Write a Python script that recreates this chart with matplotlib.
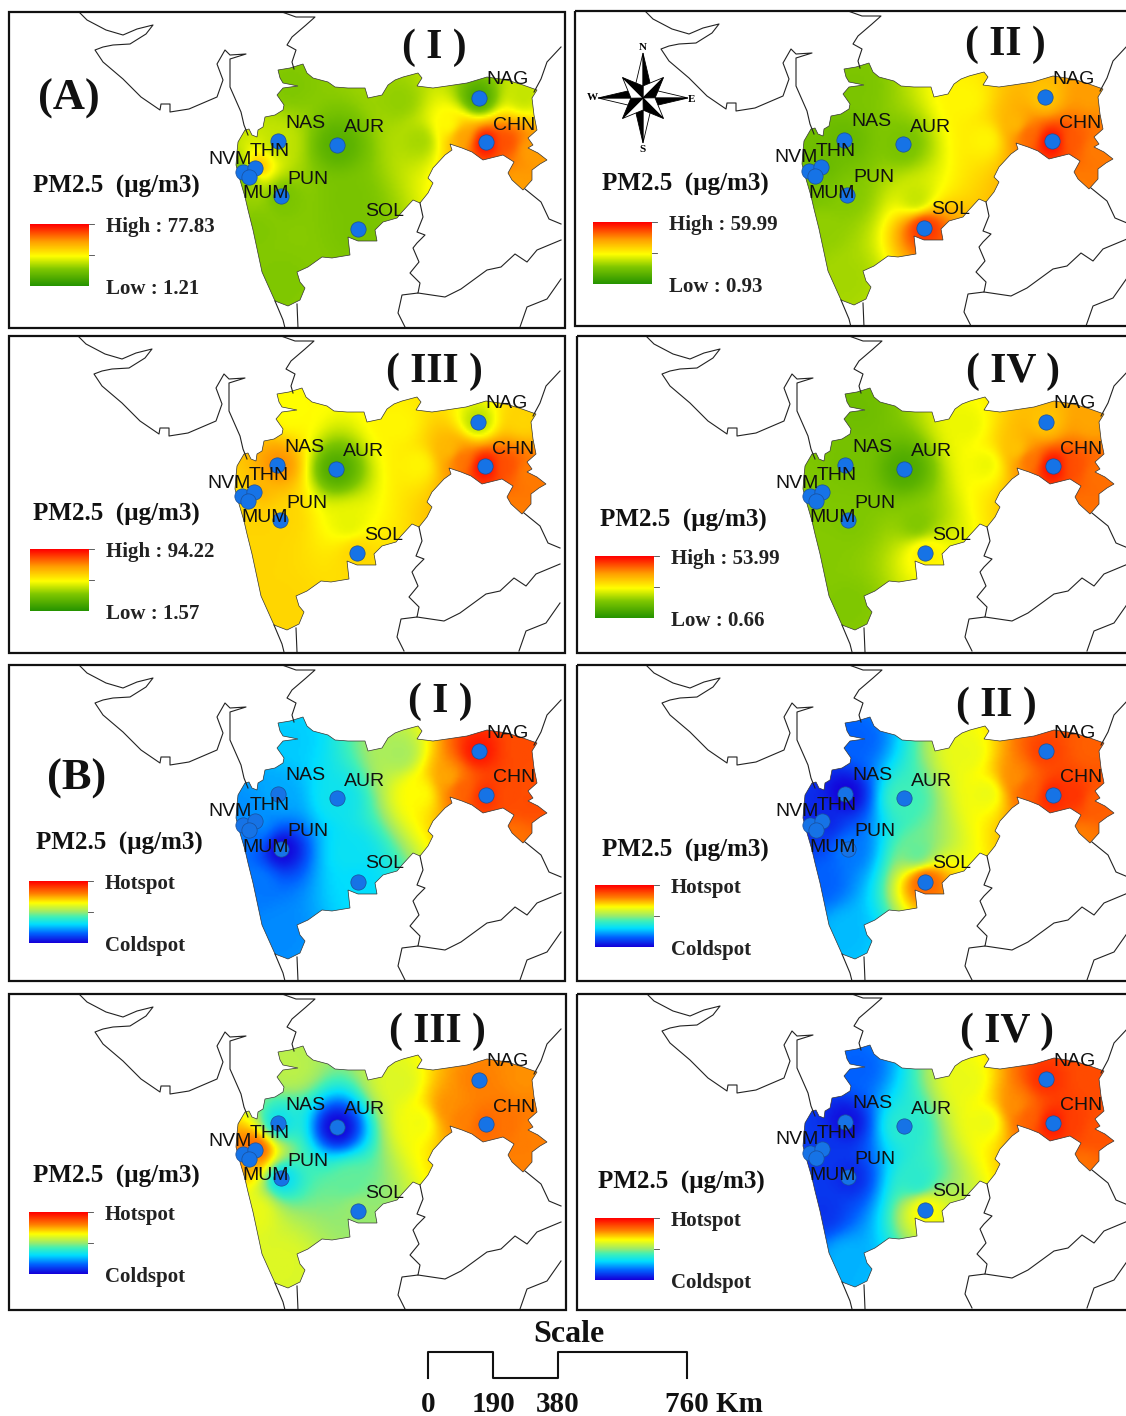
import numpy as np
from matplotlib import pyplot as plt
from matplotlib.colors import LinearSegmentedColormap
from matplotlib.patches import Polygon, Rectangle

SERIF = 'Liberation Serif'
SANS = 'Liberation Sans'

# state outline and borders, pixels of the first panel
outline = np.array([
    (237,152),(238,142),(245,130),(249,129),(252,135),(257,137),(258,130),(263,127),(265,117),(275,115),
    (283,110),(284,105),(277,95),(283,88),(298,86),(283,83),(280,78),(278,70),(290,68),(303,64),
    (307,73),(313,78),(328,82),(335,87),(348,88),(365,88),(368,98),(382,95),(388,85),(395,80),
    (403,77),(418,73),(422,78),(417,86),(433,88),(447,86),(467,83),(487,77),(507,80),(523,85),
    (537,90),(532,98),(534,115),(537,130),(528,138),(533,145),(528,148),(538,153),(547,160),(540,164),
    (532,170),(532,180),(523,190),(512,180),(508,173),(514,162),(503,155),(483,160),(472,152),(462,148),
    (450,144),(452,150),(445,155),(433,168),(428,178),(433,183),(428,193),(420,203),(413,200),(402,212),
    (397,218),(383,222),(375,230),(377,241),(358,241),(348,237),(350,255),(332,258),(322,257),(308,267),
    (297,272),(300,282),(305,288),(300,300),(288,306),(275,301),(262,272),(253,230),(248,210),(245,197),
    (240,180),(236,165)])

borders = [
    [(79,12),(87,20),(106,30),(123,35),(137,29),(153,25),(146,34),(130,44),(113,45),(103,47),(95,50),(103,62),
     (123,79),(141,97),(160,110),(161,104),(170,104),(170,112),(189,109),(217,97),(223,80),(217,64),(225,50),
     (230,55),(246,54),(230,59),(230,87),(241,112),(244,125),(248,135)],
    [(282,12),(296,17),(315,17),(306,25),(292,37),(287,45),(296,50),(292,62),(294,69)],
    [(561,47),(547,62),(541,79),(534,92)],
    [(525,189),(541,202),(549,219),(561,224)],
    [(420,203),(423,217),(417,232),(425,235),(417,243),(413,248),(419,262),(410,273),(420,283),(418,293),
     (402,295),(398,313),(405,327)],
    [(418,293),(445,297),(461,289),(487,270),(501,267),(515,254),(527,262),(537,250),(561,240)],
    [(520,327),(527,307),(547,299),(561,279)],
    [(275,301),(283,320),(285,328)],
    [(297,304),(298,328)],
]

station_names = ['NAG', 'CHN', 'NAS', 'AUR', 'NVM', 'THN', 'MUM', 'PUN', 'SOL']
station_x = [479, 486, 278, 337, 243, 255, 249, 281, 358]
station_y = [98, 142, 141, 145, 172, 168, 177, 196, 229]
label_x = [486, 493, 285, 344, 208, 250, 242, 287, 365]
label_y = [80, 125, 123, 128, 159, 152, 194, 179, 211]

# extra points inside the state so that the surface follows the picture
extra_x = [290, 420, 530, 515, 280, 255, 350, 400, 450, 525, 508, 462]
extra_y = [85, 140, 150, 185, 280, 230, 200, 100, 125, 95, 142, 135]

# colour position (0-1) read at each station, then each extra point
values_a1 = [.10, 1.0, .38, .15, .14, .75, .28, .25, .25, .27, .33, .72, .72, .27, .27, .25, .30, .48, .38, .86, .72]
values_a2 = [.62, 1.0, .20, .25, .22, .20, .25, .28, .92, .26, .50, .78, .78, .33, .30, .38, .50, .65, .72, .84, .82]
values_a3 = [.35, 1.0, .75, .12, .52, .70, .58, .58, .58, .48, .50, .78, .78, .58, .58, .44, .50, .65, .58, .86, .80]
values_a4 = [.62, 1.0, .24, .12, .28, .26, .28, .27, .52, .22, .45, .80, .80, .27, .28, .27, .45, .62, .70, .86, .80]
values_b1 = [.97, .93, .24, .33, .22, .22, .15, .00, .30, .28, .65, .88, .82, .20, .18, .32, .52, .75, .88, .88, .85]
values_b2 = [.90, .95, .00, .42, .05, .05, .10, .18, .85, .15, .62, .85, .80, .26, .15, .45, .62, .78, .85, .92, .85]
values_b3 = [.80, .84, .32, .00, .82, .88, .72, .30, .50, .55, .63, .80, .80, .60, .62, .45, .60, .78, .78, .82, .80]
values_b4 = [.93, .97, .02, .38, .10, .08, .08, .06, .66, .15, .62, .87, .82, .25, .08, .38, .62, .78, .88, .90, .85]

cmap_a = LinearSegmentedColormap.from_list('pm', [
    (0, (0.15, 0.58, 0)), (.27, (0.5, 0.78, 0)), (.48, (1, 1, 0)), (.72, (1, 0.62, 0)), (1, (1, 0, 0))])
cmap_b = LinearSegmentedColormap.from_list('spot', [
    (0, (0.08, 0, 0.85)), (.15, (0, 0.38, 1)), (.3, (0, 0.87, 1)), (.42, (0.25, 0.94, 0.72)),
    (.5, (0.6, 0.92, 0.43)), (.65, (1, 1, 0)), (.8, (1, 0.5, 0)), (1, (1, 0, 0))])

plt.rcParams['font.family'] = [SERIF, 'DejaVu Sans']
fig = plt.figure(figsize=(11.26, 14.16), dpi=100)
ax = fig.add_axes([0, 0, 1, 1])
ax.axis('off')

# Regular grid for the surface
gx, gy = np.meshgrid(np.arange(225, 560, 2.0), np.arange(55, 320, 2.0))
px = np.array(station_x + extra_x, dtype=float)
py = np.array(station_y + extra_y, dtype=float)
d2 = (gx[..., None] - px) ** 2 + (gy[..., None] - py) ** 2 + 64
weights = d2 ** -1.5


def draw_panel(frame, dx, dy, values, cmap, title, title_xy, pm_xy, bar, top_label, low_label):
    clip = Rectangle((frame[0], frame[1]), frame[2] - frame[0], frame[3] - frame[1], transform=ax.transData)

    # Surface of the state
    z = (weights * np.array(values)).sum(axis=2) / weights.sum(axis=2)
    im = ax.imshow(z, cmap=cmap, vmin=0, vmax=1, aspect='auto', interpolation='bilinear', origin='upper',
                   extent=(gx.min() + dx, gx.max() + dx, gy.max() + dy, gy.min() + dy), zorder=1)
    state = Polygon(outline + [dx, dy], closed=True, transform=ax.transData, fc='none', ec='#333333', lw=0.5, zorder=2)
    ax.add_patch(state)
    im.set_clip_path(state)

    for line in borders:
        b = np.array(line) + [dx, dy]
        ln, = ax.plot(b[:, 0], b[:, 1], color='#222222', lw=0.8, zorder=2)
        ln.set_clip_path(clip)

    # Stations and their codes
    ax.plot(np.array(station_x) + dx, np.array(station_y) + dy, 'o', ms=11, mfc='#1673e6', mec='#1a4f99', mew=0.5, zorder=3)
    for i in range(len(station_names)):
        ax.text(label_x[i] + dx, label_y[i] + dy, station_names[i], family=SANS, fontsize=14, color='#111111',
                ha='left', va='center', zorder=4, clip_on=True)

    # Legend
    grad = np.linspace(1, 0, 100).reshape(-1, 1)
    ax.imshow(grad, cmap=cmap, vmin=0, vmax=1, aspect='auto', extent=(bar[0], bar[1], bar[3], bar[2]), zorder=3)
    ax.plot([bar[1], bar[1] + 5], [(bar[2] + bar[3]) / 2] * 2, color='#444444', lw=0.6, zorder=3)
    ax.plot([bar[1], bar[1] + 5], [bar[2], bar[2]], color='#444444', lw=0.6, zorder=3)
    ax.text(bar[1] + 17, bar[2] + 3, top_label, fontsize=15, weight='bold', color='#222222', va='center')
    ax.text(bar[1] + 17, bar[3] + 3, low_label, fontsize=15, weight='bold', color='#222222', va='center')
    ax.text(pm_xy[0], pm_xy[1] + 2, 'PM2.5  (µg/m3)', fontsize=18, weight='bold', color='#111111', va='center')
    ax.text(title_xy[0], title_xy[1] + 2, title, fontsize=30, weight='bold', color='#111111', ha='center', va='center')

    ax.add_patch(Rectangle((frame[0], frame[1]), frame[2] - frame[0], frame[3] - frame[1],
                           fc='none', ec='#111111', lw=1.6, zorder=5))


draw_panel((9, 12, 565, 328), 0, 0, values_a1, cmap_a, '( I )', (434, 46), (33, 184), (30, 89, 224, 286), 'High : 77.83', 'Low : 1.21')
draw_panel((575, 11, 1135, 326), 566, -1, values_a2, cmap_a, '( II )', (1005, 43), (602, 182), (593, 652, 222, 284), 'High : 59.99', 'Low : 0.93')
draw_panel((9, 336, 565, 653), -1, 324, values_a3, cmap_a, '( III )', (434, 370), (33, 512), (30, 89, 549, 611), 'High : 94.22', 'Low : 1.57')
draw_panel((577, 336, 1135, 653), 567, 324, values_a4, cmap_a, '( IV )', (1013, 370), (600, 518), (595, 654, 556, 618), 'High : 53.99', 'Low : 0.66')
draw_panel((9, 665, 565, 981), 0, 653, values_b1, cmap_b, '( I )', (440, 700), (36, 841), (29, 88, 881, 943), 'Hotspot', 'Coldspot')
draw_panel((577, 665, 1135, 981), 567, 653, values_b2, cmap_b, '( II )', (996, 704), (602, 848), (595, 654, 885, 947), 'Hotspot', 'Coldspot')
draw_panel((9, 994, 566, 1310), 0, 982, values_b3, cmap_b, '( III )', (437, 1030), (33, 1174), (29, 88, 1212, 1274), 'Hotspot', 'Coldspot')
draw_panel((577, 994, 1135, 1310), 567, 981, values_b4, cmap_b, '( IV )', (1007, 1030), (598, 1180), (595, 654, 1218, 1280), 'Hotspot', 'Coldspot')

ax.text(69, 99, '(A)', fontsize=32, weight='bold', color='#111111', ha='center', va='center', zorder=6)
ax.text(77, 779, '(B)', fontsize=32, weight='bold', color='#111111', ha='center', va='center', zorder=6)

# North arrow in panel II
cx, cy = 643, 98
for ang, r in [(0, 45), (90, 45), (180, 45), (270, 45), (45, 29), (135, 29), (225, 29), (315, 29)]:
    a = np.radians(ang)
    tip = (cx + r * np.sin(a), cy - r * np.cos(a))
    left = (cx + 12 * np.sin(a - 0.8), cy - 12 * np.cos(a - 0.8))
    right = (cx + 12 * np.sin(a + 0.8), cy - 12 * np.cos(a + 0.8))
    ax.add_patch(Polygon([(cx, cy), tip, left], fc='white', ec='black', lw=0.6, zorder=4))
    ax.add_patch(Polygon([(cx, cy), tip, right], fc='black', ec='black', lw=0.6, zorder=4))
for s, x, y in [('N', 643, 48), ('S', 643, 149), ('W', 592, 98), ('E', 692, 99)]:
    ax.text(x, y, s, fontsize=8, weight='bold', ha='center', va='center', zorder=4)

# Scale bar
scale_ticks = [428, 493, 558, 687]
ax.plot([scale_ticks[0], scale_ticks[0], scale_ticks[1], scale_ticks[1], scale_ticks[2], scale_ticks[2], scale_ticks[3], scale_ticks[3]],
        [1378, 1352, 1352, 1378, 1378, 1352, 1352, 1378], color='#111111', lw=1.5)
ax.text(569, 1334, 'Scale', fontsize=23, weight='bold', color='#111111', ha='center', va='center')
for x, s in zip(scale_ticks[:3], ['0', '190', '380']):
    ax.text(x, 1404, s, fontsize=21, weight='bold', color='#111111', ha='center', va='center')
ax.text(665, 1404, '760 Km', fontsize=21, weight='bold', color='#111111', ha='left', va='center')

ax.set_xlim(0, 1126)
ax.set_ylim(1416, 0)
fig.savefig('out.png', dpi=100)
